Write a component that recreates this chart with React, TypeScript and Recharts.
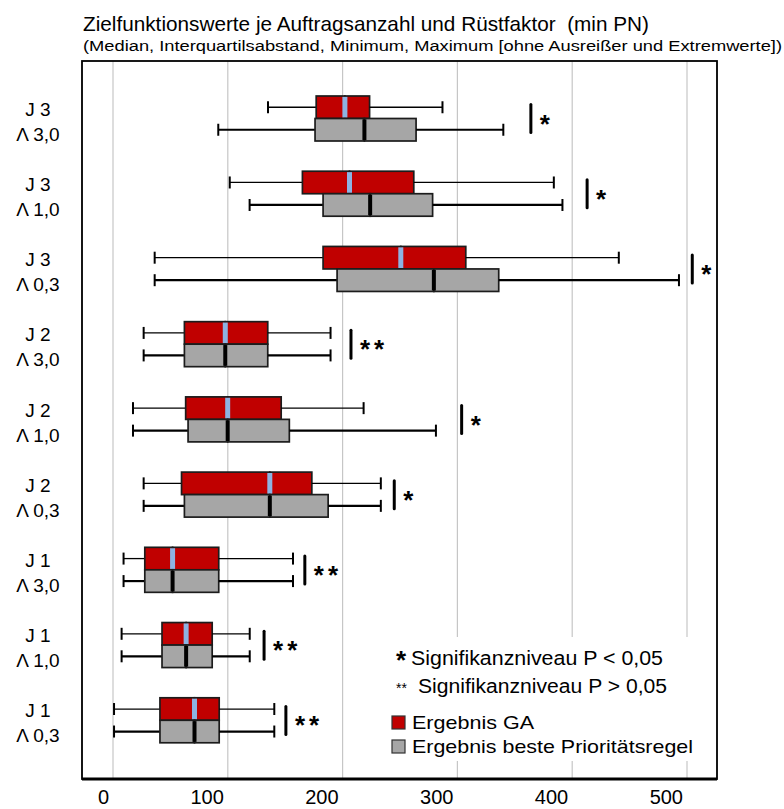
import React from 'react';
import { ComposedChart, Bar, XAxis, YAxis, CartesianGrid, ReferenceDot } from 'recharts';

// ---------- data ----------
const categories = [
  'J 3|Λ 3,0',
  'J 3|Λ 1,0',
  'J 3|Λ 0,3',
  'J 2|Λ 3,0',
  'J 2|Λ 1,0',
  'J 2|Λ 0,3',
  'J 1|Λ 3,0',
  'J 1|Λ 1,0',
  'J 1|Λ 0,3',
];

// Ergebnis GA
const gaMin = [135, 101.7, 36.3, 26.7, 17.4, 26.7, 9.2, 7.5, 0.9];
const gaQ1 = [177, 165, 183, 62.2, 63.3, 59.7, 27.7, 42.7, 40.9];
const gaMedian = [202, 206, 250.7, 97.8, 99.9, 136.6, 51.9, 63.7, 71];
const gaQ3 = [223.5, 262, 307.3, 134.8, 146.5, 173.2, 92.1, 86.4, 92.5];
const gaMax = [287, 384, 440.6, 189.5, 218.3, 233.3, 156.8, 119.1, 140.5];

// Ergebnis beste Prioritätsregel
const prMin = [91.7, 119, 36.3, 26.7, 17.4, 26.7, 9.2, 7.5, 0.9];
const prQ1 = [176, 183, 195.2, 62.2, 65.4, 62.2, 27.7, 42.7, 40.9];
const prMedian = [219, 224, 279.5, 97.8, 99.9, 136.6, 51.9, 63.7, 71];
const prQ3 = [264, 278.4, 336, 134.8, 153.6, 187.4, 92.1, 86.4, 92.5];
const prMax = [340, 391.5, 493, 189.5, 281.3, 233.3, 156.8, 119.1, 140.5];

// significance markers
const sigPos = [364, 413, 504.6, 207.3, 303.7, 245, 167.1, 131.6, 150.6];
const sigMark = ['*', '*', '*', '**', '*', '*', '**', '**', '**'];

const xTicks = [0, 100, 200, 300, 400, 500];

const data = categories.map((cat, i) => ({
  cat,
  gaBase: gaMin[i],
  gaWL: gaQ1[i] - gaMin[i],
  gaBL: gaMedian[i] - gaQ1[i],
  gaBH: gaQ3[i] - gaMedian[i],
  gaWH: gaMax[i] - gaQ3[i],
  prBase: prMin[i],
  prWL: prQ1[i] - prMin[i],
  prBL: prMedian[i] - prQ1[i],
  prBH: prQ3[i] - prMedian[i],
  prWH: prMax[i] - prQ3[i],
}));

// ---------- layout / style ----------
const W = 784;
const H = 809;
const PLOT_LEFT = 82;
const PLOT_RIGHT = 717;
const PLOT_TOP = 61;
const X_AXIS_H = 30;
const PLOT_BOTTOM = H - X_AXIS_H;
const FONT = '"Liberation Sans", Arial, sans-serif';
const RED = '#C00000';
const GREY = '#A6A6A6';
const BLUE = '#8DB3E2';
const EDGE = '#1c1c1c';

const Empty = () => <g />;

const whisker = (side: 'low' | 'high', sw: number) => (props: any) => {
  const { x, y, width, height } = props;
  const cy = y + height / 2;
  const capX = side === 'low' ? x : x + width;
  return (
    <g>
      <line x1={x} y1={cy} x2={x + width} y2={cy} stroke="#000" strokeWidth={sw} />
      <line x1={capX} y1={cy - 6} x2={capX} y2={cy + 6} stroke="#000" strokeWidth={2} />
    </g>
  );
};

const box = (fill: string, medianColor?: string, medianWidth?: number) => (props: any) => {
  const { x, y, width, height } = props;
  return (
    <g>
      <rect x={x} y={y} width={width} height={height} fill={fill} stroke={EDGE} strokeWidth={1.7} />
      {medianColor ? (
        <line x1={x} x2={x} y1={y + 0.9} y2={y + height - 0.9} stroke={medianColor} strokeWidth={medianWidth} />
      ) : null}
    </g>
  );
};

const SigShape = (mark: string) => (props: any) => {
  const { cx, cy } = props;
  return (
    <g>
      <line x1={cx} x2={cx} y1={cy - 14} y2={cy + 14} stroke="#000" strokeWidth={3} strokeLinecap="round" />
      <text
        x={cx + 9}
        y={cy + 14}
        fontFamily={FONT}
        fontSize={26}
        fontWeight="bold"
        letterSpacing={4}
        fill="#000"
      >
        {mark}
      </text>
    </g>
  );
};

const YTick = (props: any) => {
  const { y, payload } = props;
  const [a, b] = String(payload.value).split('|');
  return (
    <g>
      <text x={38} y={y - 3} textAnchor="middle" fontFamily={FONT} fontSize={19} fill="#000">
        {a}
      </text>
      <text x={38} y={y + 22} textAnchor="middle" fontFamily={FONT} fontSize={19} fill="#000">
        {b}
      </text>
    </g>
  );
};

const XTick = (props: any) => {
  const { x, payload } = props;
  return (
    <text x={x - 4} y={H - 5} textAnchor="end" fontFamily={FONT} fontSize={20} fill="#000">
      {payload.value}
    </text>
  );
};

export default function App() {
  return (
    <div style={{ position: 'absolute', left: 0, top: 0, width: W, height: H, background: '#fff' }}>
      <ComposedChart
        width={W}
        height={H}
        data={data}
        layout="vertical"
        margin={{ top: PLOT_TOP, left: 0, right: W - PLOT_RIGHT, bottom: 0 }}
        barGap={0}
        barSize={22.5}
      >
        <CartesianGrid horizontal={false} vertical stroke="#c6c6c6" strokeWidth={1.2} />
        <XAxis
          type="number"
          domain={[0, 500]}
          ticks={xTicks}
          interval={0}
          allowDataOverflow
          padding={{ left: 31, right: 30 }}
          height={X_AXIS_H}
          axisLine={{ stroke: '#000', strokeWidth: 3 }}
          tickLine={false}
          tick={<XTick />}
        />
        <YAxis
          type="category"
          dataKey="cat"
          width={PLOT_LEFT}
          interval={0}
          padding={{ top: 20, bottom: 21 }}
          axisLine={false}
          tickLine={false}
          tick={<YTick />}
        />
        <Bar dataKey="gaBase" stackId="ga" isAnimationActive={false} shape={Empty} />
        <Bar dataKey="gaWL" stackId="ga" isAnimationActive={false} shape={whisker('low', 1.3)} />
        <Bar dataKey="gaBL" stackId="ga" isAnimationActive={false} shape={box(RED)} />
        <Bar dataKey="gaBH" stackId="ga" isAnimationActive={false} shape={box(RED, BLUE, 5)} />
        <Bar dataKey="gaWH" stackId="ga" isAnimationActive={false} shape={whisker('high', 1.3)} />
        <Bar dataKey="prBase" stackId="pr" isAnimationActive={false} shape={Empty} />
        <Bar dataKey="prWL" stackId="pr" isAnimationActive={false} shape={whisker('low', 2.2)} />
        <Bar dataKey="prBL" stackId="pr" isAnimationActive={false} shape={box(GREY)} />
        <Bar dataKey="prBH" stackId="pr" isAnimationActive={false} shape={box(GREY, '#000', 4)} />
        <Bar dataKey="prWH" stackId="pr" isAnimationActive={false} shape={whisker('high', 2.2)} />
        {categories.map((c, i) => (
          <ReferenceDot key={c} x={sigPos[i]} y={c} r={1} ifOverflow="visible" shape={SigShape(sigMark[i])} />
        ))}
      </ComposedChart>
      <svg
        width={W}
        height={H}
        style={{ position: 'absolute', left: 0, top: 0, pointerEvents: 'none' }}
      >
        <rect
          x={PLOT_LEFT}
          y={PLOT_TOP}
          width={PLOT_RIGHT - PLOT_LEFT}
          height={PLOT_BOTTOM - PLOT_TOP}
          fill="none"
          stroke="#000"
          strokeWidth={1.8}
        />
        <text x={83} y={31} fontFamily={FONT} fontSize={21} fill="#000" textLength={566} lengthAdjust="spacingAndGlyphs">
          {'Zielfunktionswerte je Auftragsanzahl und Rüstfaktor \u00a0(min PN)'}
        </text>
        <text x={83} y={51} fontFamily={FONT} fontSize={15.5} fill="#000" textLength={699} lengthAdjust="spacingAndGlyphs">
          (Median, Interquartilsabstand, Minimum, Maximum [ohne Ausreißer und Extremwerte])
        </text>
        {/* legend block */}
        <rect x={385} y={637} width={325} height={124} fill="#fff" />
        <text x={396} y={669} fontFamily={FONT} fontSize={26} fontWeight="bold" fill="#000">*</text>
        <text x={411} y={665} fontFamily={FONT} fontSize={20} fill="#000" textLength={252} lengthAdjust="spacingAndGlyphs">
          Signifikanzniveau P &lt; 0,05
        </text>
        <text x={396} y={693} fontFamily={FONT} fontSize={14} fill="#000">**</text>
        <text x={418} y={693} fontFamily={FONT} fontSize={20} fill="#000" textLength={249} lengthAdjust="spacingAndGlyphs">
          Signifikanzniveau P &gt; 0,05
        </text>
        <rect x={392} y={716} width={13} height={13} fill={RED} stroke="#333" strokeWidth={1.2} />
        <text x={412} y={729} fontFamily={FONT} fontSize={19} fill="#000" textLength={122} lengthAdjust="spacingAndGlyphs">
          Ergebnis GA
        </text>
        <rect x={392} y={740} width={13} height={13} fill={GREY} stroke="#333" strokeWidth={1.2} />
        <text x={412} y={753} fontFamily={FONT} fontSize={19} fill="#000" textLength={281} lengthAdjust="spacingAndGlyphs">
          Ergebnis beste Prioritätsregel
        </text>
      </svg>
    </div>
  );
}
